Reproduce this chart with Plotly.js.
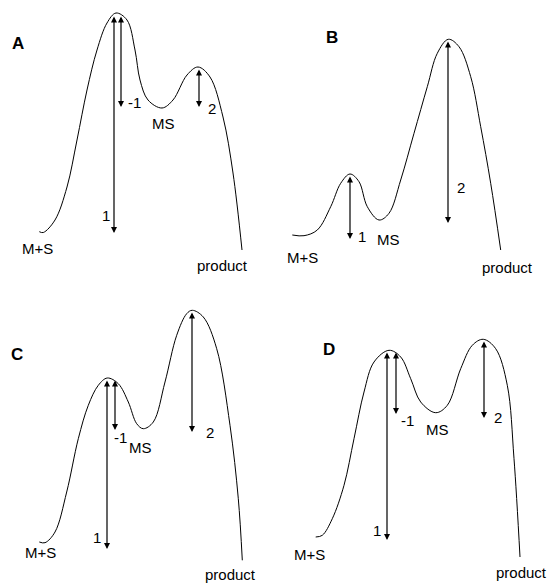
<!DOCTYPE html>
<html><head><meta charset="utf-8">
<script src="https://cdn.plot.ly/plotly-3.0.1.min.js"></script>
<style>html,body{margin:0;padding:0;background:#fff}#chart{width:548px;height:584px}</style>
</head><body><div id="chart"></div>
<script>
// Energy profiles (x: reaction coordinate, y: page-scaled energy, larger = lower)
const curveA_x = [39.3,43.3,55,67,77,87,97,107,116,127,135,140,148,162,173,187,198,210,223,233,242];
const curveA_y = [231.7,232.5,220,187,140,90,50,23,13,20,50,80,100,108,100,75,67,77,117,173,250];
const curveB_x = [292.3,304,317.3,330.7,340.7,350,359,367.3,379,389,400.7,414,427.3,437.3,448.3,459,470.7,480.7,490.7,500.7];
const curveB_y = [235,235.7,230,206.7,183.3,174,181.7,206.7,220,213.3,180,133.3,86.7,53.3,39.3,46.7,76.7,126.7,183.3,250];
const curveC_x = [39.3,45,55,66.7,78.3,88.3,98.3,107.3,118.3,128.3,136.7,143.3,153.3,165,176.7,186.7,192.3,203.3,216.7,230,238.3,242.3];
const curveC_y = [542,542.7,532,492,438.7,405.3,385.3,378,383.7,402,423.7,428.7,422,382,335.3,313.7,310.3,317,348.7,425.3,498.7,560.3];
const curveD_x = [315.7,322.3,332.3,344,354,364,374,389,400.7,410.7,420.7,435.7,447.3,460.7,472.3,483.3,495.7,507.3,514,520];
const curveD_y = [537,535.3,518.7,485.3,438.7,392,362,350.3,357,378.7,402,412.7,405.3,368.7,345.3,339.3,348.7,385.3,458.7,557];

// Double-headed arrows: x, top energy, bottom energy
const arrowX    = [114, 121, 199, 350, 448, 107, 115, 192, 387, 396, 484];
const arrowTop  = [15, 15, 68, 175, 40, 379, 379, 311, 351, 351, 340];
const arrowBot  = [233, 107, 107, 239, 223, 549, 430, 432, 540, 414, 418];

// Text labels
const labelText = ["1","-1","MS","2","M+S","product", "1","MS","2","M+S","product", "1","-1","MS","2","M+S","product", "1","-1","MS","2","M+S","product"];
const labelX = [106,134,163,212,37,222, 362,388,461,302,507, 97,120,140,210,40,230, 377,407,437,498,309,521];
const labelY = [215,102,123,108,248,265, 236,239,187,257,267, 537,437,447,432,552,574, 530,420,429,417,554,572];
const panelText = ["A","B","C","D"];
const panelX = [18,332,17,328.5];
const panelY = [43,37.5,354,349];

const curves = [[curveA_x,curveA_y],[curveB_x,curveB_y],[curveC_x,curveC_y],[curveD_x,curveD_y]];
const traces = curves.map(c => ({
  x: c[0], y: c[1], mode: 'lines', type: 'scatter',
  line: {color: '#000', width: 1, shape: 'spline', smoothing: 1},
  hoverinfo: 'skip', showlegend: false
}));

const annotations = [];
arrowX.forEach((x,i) => {
  annotations.push({
    x: x, y: arrowBot[i], ax: x, ay: arrowTop[i], axref: 'x', ayref: 'y', xref: 'x', yref: 'y',
    text: '', showarrow: true, arrowhead: 2, startarrowhead: 2, arrowside: 'end+start',
    arrowsize: 1, startarrowsize: 1, arrowwidth: 1.2, arrowcolor: '#000', standoff: 0, startstandoff: 0
  });
});
labelText.forEach((t,i) => {
  annotations.push({x: labelX[i], y: labelY[i], xref: 'x', yref: 'y', text: t, showarrow: false,
    xanchor: 'center', yanchor: 'middle', font: {family: 'Liberation Sans, Arial, sans-serif', size: 15, color: '#000'}});
});
panelText.forEach((t,i) => {
  annotations.push({x: panelX[i], y: panelY[i], xref: 'x', yref: 'y', text: '<b>'+t+'</b>', showarrow: false,
    xanchor: 'center', yanchor: 'middle', font: {family: 'Liberation Sans, Arial, sans-serif', size: 17, color: '#000'}});
});

const layout = {
  width: 548, height: 584, margin: {l:0, r:0, t:0, b:0},
  paper_bgcolor: '#fff', plot_bgcolor: '#fff',
  xaxis: {range: [0,548], visible: false, fixedrange: true},
  yaxis: {range: [584,0], visible: false, fixedrange: true},
  annotations: annotations, showlegend: false
};
Plotly.newPlot('chart', traces, layout, {staticPlot: true, displayModeBar: false});
</script>
</body></html>
